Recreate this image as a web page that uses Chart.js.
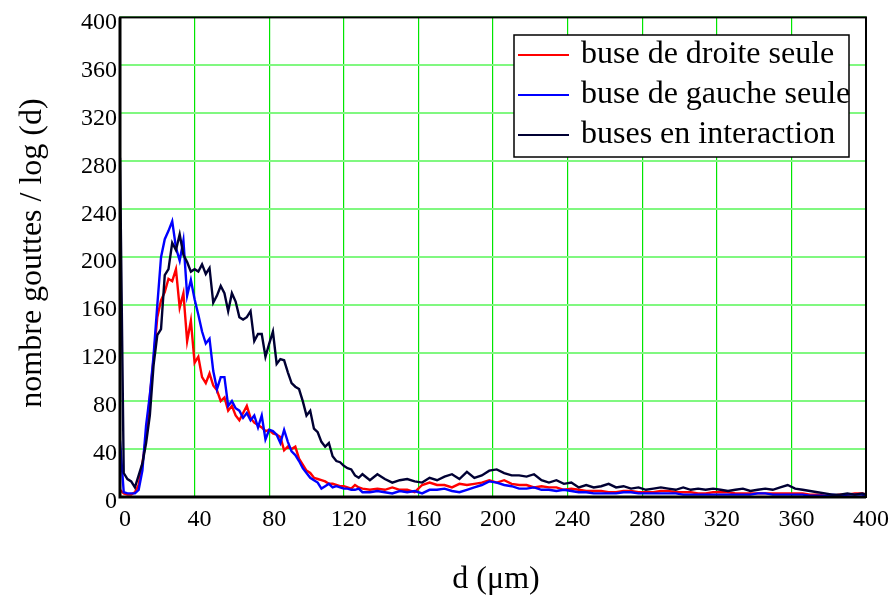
<!DOCTYPE html>
<html>
<head>
<meta charset="utf-8">
<script src="https://cdn.jsdelivr.net/npm/chart.js@4.4.1/dist/chart.umd.min.js"></script>
<style>
  html, body { margin: 0; padding: 0; background: #fff; }
  #chart { display: block; }
</style>
</head>
<body>
<canvas id="chart" width="892" height="598"></canvas>
<script>
"use strict";

///////////////////////////////////////
// Data

const diameter = [
  0, 2, 4, 6, 8, 10, 12, 14, 16, 18,
  20, 22, 24, 26, 28, 30, 32, 34, 36, 38,
  40, 42, 44, 46, 48, 50, 52, 54, 56, 58,
  60, 62, 64, 66, 68, 70, 72, 74, 76, 78,
  80, 82, 84, 86, 88, 90, 92, 94, 96, 98,
  100, 102, 104, 106, 108, 110, 112, 114, 116, 118,
  120, 122, 124, 126, 128, 130,
  134, 138, 142, 146, 150, 154, 158, 162, 166, 170,
  174, 178, 182, 186, 190, 194, 198, 202, 206, 210,
  214, 218, 222, 226, 230, 234, 238, 242, 246, 250,
  254, 258, 262, 266, 270, 274, 278, 282, 286, 290,
  294, 298, 302, 306, 310, 314, 318, 322, 326, 330,
  334, 338, 342, 346, 350, 354, 358, 362, 366, 370,
  374, 378, 382, 386, 390, 394, 398, 400,
];

const buseDroite = [
  6, 3, 2, 2, 4, 10, 28, 50, 84, 115,
  150, 164, 171, 182, 180, 190, 158, 170, 130, 147,
  112, 117, 100, 95, 103, 93, 89, 80, 83, 72,
  76, 68, 64, 70, 76, 66, 62, 60, 58, 55,
  56, 53, 52, 50, 39, 42, 40, 42, 32, 27,
  22, 20, 16, 15, 14, 13, 11, 11, 10, 9,
  9, 8, 7, 10, 8, 7,
  6, 7, 6, 8, 6, 6, 4, 10, 12, 10,
  10, 8, 11, 10, 11, 12, 14, 12, 14, 11,
  10, 10, 8, 9, 8, 8, 6, 7, 6, 5,
  5, 5, 4, 4, 5, 5, 4, 4, 4, 5,
  5, 4, 4, 4, 3, 3, 4, 4, 4, 3,
  3, 3, 3, 3, 3, 3, 3, 3, 3, 2,
  2, 1, 1, 2, 2, 3, 3, 2,
];

const buseGauche = [
  47, 4, 3, 3, 3, 6, 22, 60, 85, 118,
  160, 200, 215, 222, 230, 208, 197, 214, 168, 181,
  165, 152, 138, 128, 132, 105, 90, 100, 100, 76,
  80, 74, 72, 66, 70, 64, 68, 58, 68, 48,
  56, 55, 52, 45, 56, 46, 38, 35, 30, 24,
  20, 16, 14, 12, 7, 9, 11, 8, 9, 8,
  7, 7, 6, 6, 7, 4,
  4, 5, 4, 3, 5, 4, 5, 3, 6, 6,
  7, 5, 4, 6, 8, 10, 13, 12, 10, 9,
  7, 7, 8, 6, 6, 5, 6, 5, 4, 4,
  3, 3, 3, 3, 4, 4, 3, 3, 3, 3,
  3, 3, 2, 2, 2, 2, 2, 2, 2, 2,
  2, 2, 3, 3, 2, 2, 2, 2, 2, 1,
  1, 1, 2, 1, 2, 2, 2, 1,
];

const busesInteraction = [
  283, 20, 15, 13, 8, 18, 28, 45, 68, 110,
  135, 140, 185, 190, 212, 206, 219, 202, 196, 188,
  190, 188, 194, 186, 191, 162, 168, 176, 170, 155,
  170, 163, 150, 148, 150, 155, 130, 136, 136, 117,
  128, 138, 111, 115, 114, 104, 95, 92, 90, 80,
  68, 72, 57, 54, 46, 42, 45, 34, 30, 29,
  26, 24, 23, 18, 16, 19,
  14, 19, 15, 12, 14, 15, 13, 12, 16, 14,
  17, 19, 15, 21, 16, 18, 22, 23, 20, 18,
  18, 17, 19, 14, 12, 14, 11, 12, 8, 10,
  8, 9, 11, 8, 9, 7, 8, 6, 7, 8,
  7, 6, 8, 6, 7, 6, 7, 6, 5, 6,
  7, 5, 6, 7, 6, 8, 10, 7, 6, 5,
  4, 3, 2, 2, 3, 2, 3, 2,
];

const seriesLabels = [
  "buse de droite seule",
  "buse de gauche seule",
  "buses en interaction",
];

const xTitle = "d (\u03bcm)";
const yTitle = "nombre gouttes / log (d)";

///////////////////////////////////////
// Styling

const serif = "'Liberation Serif', 'Times New Roman', serif";
const lineColors = ["#ff0000", "#0000ff", "#000033"];

const toPoints = function (values) {
  return values.map((v, i) => ({ x: diameter[i], y: v }));
};

const makeDataset = function (i, values) {
  return {
    label: seriesLabels[i],
    data: toPoints(values),
    borderColor: lineColors[i],
    backgroundColor: lineColors[i],
    borderWidth: 2.4,
    pointRadius: 0,
    tension: 0,
    order: 3 - i,
  };
};

///////////////////////////////////////
// Plugins: frame, legend box, axis titles

const framePlugin = {
  id: "frame",
  afterDatasetsDraw(chart) {
    const { ctx, chartArea: a } = chart;
    ctx.save();
    ctx.strokeStyle = "#000";
    ctx.lineWidth = 2;
    ctx.strokeRect(a.left, a.top, a.right - a.left, a.bottom - a.top);
    ctx.lineWidth = 3;
    ctx.beginPath();
    ctx.moveTo(a.left, a.top);
    ctx.lineTo(a.left, a.bottom);
    ctx.lineTo(a.right, a.bottom);
    ctx.stroke();
    ctx.restore();
  },
};

const legendPlugin = {
  id: "legendBox",
  afterDraw(chart) {
    const ctx = chart.ctx;
    const box = { x: 514, y: 35, w: 335, h: 122 };
    ctx.save();
    ctx.fillStyle = "#fff";
    ctx.fillRect(box.x, box.y, box.w, box.h);
    ctx.strokeStyle = "#000";
    ctx.lineWidth = 1.5;
    ctx.strokeRect(box.x, box.y, box.w, box.h);

    ctx.font = "32px " + serif;
    ctx.textBaseline = "middle";
    ctx.textAlign = "left";
    chart.data.datasets.forEach((ds, i) => {
      const y = box.y + 20 + i * 40;
      ctx.strokeStyle = ds.borderColor;
      ctx.lineWidth = 2;
      ctx.beginPath();
      ctx.moveTo(box.x + 4, y);
      ctx.lineTo(box.x + 55, y);
      ctx.stroke();
      ctx.fillStyle = "#000";
      ctx.fillText(ds.label, box.x + 67, y);
    });
    ctx.restore();
  },
};

const titlesPlugin = {
  id: "axisTitles",
  afterDraw(chart) {
    const ctx = chart.ctx;
    ctx.save();
    ctx.fillStyle = "#000";
    ctx.font = "32px " + serif;
    ctx.textAlign = "center";
    ctx.textBaseline = "middle";
    ctx.fillText(xTitle, 496, 580);
    ctx.translate(33, 253);
    ctx.rotate(-Math.PI / 2);
    ctx.fillText(yTitle, 0, 0);
    ctx.restore();
  },
};

///////////////////////////////////////
// Chart config

const config = {
  type: "line",
  data: {
    datasets: [
      makeDataset(0, buseDroite),
      makeDataset(1, buseGauche),
      makeDataset(2, busesInteraction),
    ],
  },
  options: {
    responsive: false,
    animation: false,
    layout: {
      padding: { top: 17, right: 26, left: 0, bottom: 0 },
    },
    plugins: {
      legend: { display: false },
      tooltip: { enabled: false },
    },
    scales: {
      x: {
        type: "linear",
        min: 0,
        max: 400,
        ticks: {
          stepSize: 40,
          color: "#000",
          font: { family: serif, size: 24 },
          labelOffset: 5,
          padding: 8,
          maxRotation: 0,
        },
        grid: { color: "#00e600", lineWidth: 1.2, drawTicks: false },
        border: { display: false },
        afterFit(scale) {
          scale.height = 101;
        },
      },
      y: {
        min: 0,
        max: 400,
        ticks: {
          stepSize: 40,
          color: "#000",
          font: { family: serif, size: 24 },
          labelOffset: 5,
          padding: 3,
        },
        grid: { color: "#80f880", lineWidth: 2, drawTicks: false },
        border: { display: false },
        afterFit(scale) {
          scale.width = 120;
        },
      },
    },
  },
  plugins: [framePlugin, legendPlugin, titlesPlugin],
};

///////////////////////////////////////
// Chart display

const chartEl = document.getElementById("chart");
const chart = new Chart(chartEl, config);
</script>
</body>
</html>
